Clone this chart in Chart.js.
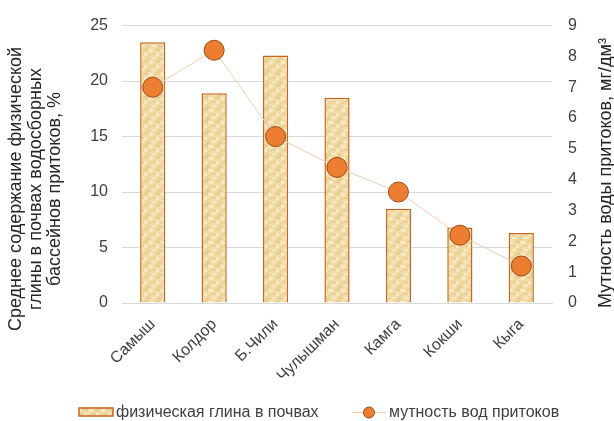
<!DOCTYPE html>
<html>
<head>
<meta charset="utf-8">
<script src="https://cdn.jsdelivr.net/npm/chart.js@4"></script>
<style>
  html, body { margin: 0; padding: 0; background: #fff; }
  #wrap { width: 614px; height: 421px; }
</style>
</head>
<body>
<div id="wrap"><canvas id="chart" width="614" height="421"></canvas></div>
<script>
const rivers = ["Самыш", "Колдор", "Б.Чили", "Чулышман", "Камга", "Кокши", "Кыга"];
const clayValues = [23.5, 18.9, 22.3, 18.5, 8.5, 6.8, 6.3];
const turbidityValues = [7.0, 8.2, 5.4, 4.4, 3.6, 2.2, 1.2];
const clayLabel = "физическая глина в почвах";
const turbidityLabel = "мутность вод притоков";
const leftTitle = ["Среднее содержание физической", "глины в почвах водосборных", "бассейнов притоков, %"];
const rightTitle = "Мутность воды притоков, мг/дм³";

const FONT = "'Liberation Sans', Arial, sans-serif";
const BAR_EDGE = "#c9651f";

// parchment-like texture for bars
function makeTexture() {
  const c = document.createElement("canvas");
  c.width = 12; c.height = 12;
  const g = c.getContext("2d");
  g.fillStyle = "#f1dca8";
  g.fillRect(0, 0, 12, 12);
  g.fillStyle = "#e8cf94";
  g.fillRect(0, 0, 4, 3); g.fillRect(7, 5, 5, 2); g.fillRect(2, 9, 4, 3);
  g.fillStyle = "#f7e9c4";
  g.fillRect(5, 1, 4, 3); g.fillRect(0, 5, 3, 3); g.fillRect(8, 9, 4, 2);
  g.fillStyle = "#ecd59f";
  g.fillRect(4, 6, 3, 2); g.fillRect(10, 1, 2, 3);
  return g.createPattern(c, "repeat");
}

const ctx = document.getElementById("chart").getContext("2d");
const texture = makeTexture();

// axis titles (left one reads bottom-to-top, as does the right one) and legend
const decorPlugin = {
  id: "decor",
  afterDraw(chart) {
    const g = chart.ctx;
    g.save();
    g.fillStyle = "#262626";
    g.font = "18px " + FONT;
    g.textAlign = "center";
    g.textBaseline = "alphabetic";
    const baselines = [21, 40.5, 60];
    leftTitle.forEach((line, i) => {
      g.save();
      g.translate(baselines[i], 189);
      g.rotate(-Math.PI / 2);
      g.fillText(line, 0, 0);
      g.restore();
    });
    g.save();
    g.translate(611, 173);
    g.rotate(-Math.PI / 2);
    g.fillText(rightTitle, 0, 0);
    g.restore();

    // legend
    g.fillStyle = texture;
    g.fillRect(79, 408, 34, 8);
    g.strokeStyle = BAR_EDGE;
    g.lineWidth = 1.5;
    g.strokeRect(79, 408, 34, 8);
    g.strokeStyle = "#f8cbad";
    g.lineWidth = 1;
    g.beginPath(); g.moveTo(352, 412.5); g.lineTo(386, 412.5); g.stroke();
    g.fillStyle = "#ed7d31";
    g.strokeStyle = "#9c4a14";
    g.beginPath(); g.arc(369, 412.5, 5.5, 0, Math.PI * 2); g.fill(); g.stroke();
    g.fillStyle = "#404040";
    g.font = "16px " + FONT;
    g.textAlign = "left";
    g.textBaseline = "middle";
    g.fillText(clayLabel, 116, 413);
    g.fillText(turbidityLabel, 389, 413);
    g.restore();
  }
};

Chart.defaults.font.family = FONT;
Chart.defaults.color = "#404040";

new Chart(ctx, {
  type: "bar",
  data: {
    labels: rivers,
    datasets: [
      {
        type: "line",
        label: turbidityLabel,
        data: turbidityValues,
        yAxisID: "y2",
        order: 0,
        borderColor: "#f8cbad",
        borderWidth: 1,
        pointRadius: 10,
        pointBackgroundColor: "#ed7d31",
        pointBorderColor: "#9c4a14",
        pointBorderWidth: 1,
        tension: 0
      },
      {
        type: "bar",
        label: clayLabel,
        data: clayValues,
        yAxisID: "y",
        order: 1,
        backgroundColor: texture,
        borderColor: BAR_EDGE,
        borderWidth: 1.5,
        categoryPercentage: 1,
        barPercentage: 0.41
      }
    ]
  },
  options: {
    responsive: false,
    animation: false,
    layout: { padding: { left: 0, right: 0, top: 23, bottom: 0 } },
    plugins: {
      tooltip: { enabled: false },
      legend: { display: false }
    },
    scales: {
      x: {
        grid: { display: false },
        border: { color: "#d9d9d9", width: 1 },
        ticks: { font: { size: 16 }, minRotation: 45, maxRotation: 45, padding: 4 },
        afterFit: (s) => { s.height = 118; }
      },
      y: {
        position: "left",
        min: 0, max: 25,
        ticks: { stepSize: 5, font: { size: 16 }, padding: 14 },
        grid: { color: "#d9d9d9", drawTicks: false },
        border: { display: false },
        afterFit: (s) => { s.width = 122; }
      },
      y2: {
        position: "right",
        min: 0, max: 9,
        ticks: { stepSize: 1, font: { size: 16 }, padding: 16 },
        grid: { display: false, drawTicks: false },
        border: { display: false },
        afterFit: (s) => { s.width = 62; }
      }
    }
  },
  plugins: [decorPlugin]
});
</script>
</body>
</html>
